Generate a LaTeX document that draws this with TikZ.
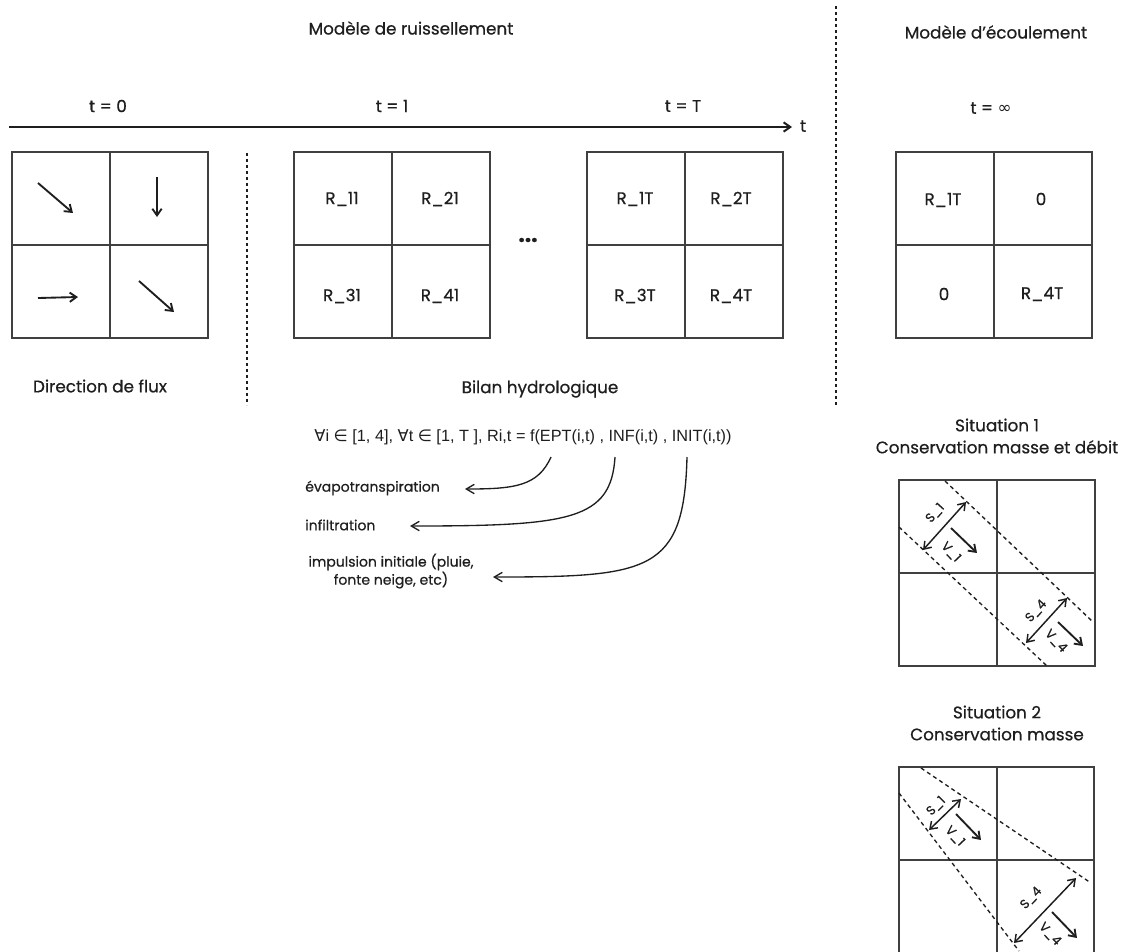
\documentclass[tikz,border=0pt]{standalone}
\usepackage{fontspec}
\setmainfont{Poppins}[FakeBold=0.6]
\newfontfamily\symf{DejaVu Sans}
\newfontfamily\formf{Liberation Sans}
\usetikzlibrary{arrows.meta}
\definecolor{ink}{HTML}{1E1E1E}
\begin{document}
\begin{tikzpicture}[x=0.75pt,y=-0.75pt,
  txt/.style={font=\fontsize{12.6}{16.5}\selectfont, text=ink, inner sep=0pt, align=center},
  small/.style={font=\fontsize{10.5}{11.5}\selectfont, text=ink, inner sep=0pt, align=center},
  tiny/.style={font=\fontsize{9.5}{10}\selectfont, text=ink, inner sep=0pt},
  form/.style={font=\formf\fontsize{12.2}{14}\selectfont, text=ink, inner sep=0pt},
  gridl/.style={draw=ink!85, line width=0.8pt},
  axisl/.style={draw=ink, line width=1.5pt, -{Straight Barb[length=5pt,width=7pt]}},
  sepline/.style={draw=ink, line width=1pt, dash pattern=on 2.5pt off 2pt},
  diag/.style={draw=ink, line width=1pt, dash pattern=on 3pt off 2.5pt},
  flow/.style={draw=ink, line width=1.4pt, -{Straight Barb[length=5pt,width=7pt]}},
  dbl/.style={draw=ink, line width=1.1pt, {Straight Barb[length=5pt,width=7pt]}-{Straight Barb[length=5pt,width=7pt]}},
  callout/.style={draw=ink, line width=1pt, -{Straight Barb[length=6pt,width=7pt]}},
  quad/.pic={\draw[gridl] (0,0) rectangle (196,186);
             \draw[gridl] (98,0) -- (98,186) (0,93) -- (196,93);}
]
\useasboundingbox (0,0) rectangle (1123,951);

% titles
\node[txt] (title1) at (411,28) {Modèle de ruissellement};
\node[txt] (title2) at (996,32) {Modèle d'écoulement};

% time axis
\node[txt] (t0) at (108,106) {t = 0};
\node[txt] (t1) at (392,106) {t = 1};
\node[txt] (tT) at (683,106) {t = T};
\node[txt] (tinf) at (991,108) {t = {\symf ∞}};
\node[txt] (tax) at (803,126) {t};
\coordinate (axs) at (9,127);
\coordinate (axe) at (792,127);
\draw[axisl] (axs) -- (axe);

% separators
\coordinate (sepAa) at (247,153);
\coordinate (sepAb) at (247,405);
\draw[sepline] (sepAa) -- (sepAb);
\coordinate (sepBa) at (836,6);
\coordinate (sepBb) at (836,407);
\draw[sepline] (sepBa) -- (sepBb);

% grid 1 : flow directions
\pic at (12,152) {quad};
\draw[flow] (38,183) -- (73,213);
\draw[flow] (157,177) -- (157,217);
\draw[flow] (38,298) -- (78,297);
\draw[flow] (139,281) -- (174,312);
\node[txt] (dirflux) at (100,386) {Direction de flux};

% grid 2 : t = 1
\pic at (294,152) {quad};
\node[txt] (r11) at (342,199) {R\_11};
\node[txt] (r21) at (440,199) {R\_21};
\node[txt] (r31) at (342,296) {R\_31};
\node[txt] (r41) at (440,296) {R\_41};

\node[txt, font=\fontsize{17}{17}\selectfont\bfseries] (dots) at (528,240) {...};

% grid 3 : t = T
\pic at (587,152) {quad};
\node[txt] (r1T) at (635,199) {R\_1T};
\node[txt] (r2T) at (731,199) {R\_2T};
\node[txt] (r3T) at (635,296) {R\_3T};
\node[txt] (r4T) at (731,296) {R\_4T};

% grid 4 : t = infinity
\pic at (896,152) {quad};
\node[txt] (i1) at (943,200) {R\_1T};
\node[txt] (i2) at (1041,199) {0};
\node[txt] (i3) at (944,294) {0};
\node[txt] (i4) at (1042,294) {R\_4T};

% bilan
\node[txt] (bilan) at (540,389) {Bilan hydrologique};
\node[form] (formula) at (523,437) {{\symf ∀}i {\symf ∈} [1, 4], {\symf ∀}t {\symf ∈} [1, T ], Ri,t = f(EPT(i,t) , INF(i,t) , INIT(i,t))};
\coordinate (eptS) at (551,457);
\coordinate (infS) at (615,457);
\coordinate (iniS) at (687,457);
\node[small, anchor=west] (evap) at (305,488) {évapotranspiration};
\node[small, anchor=west] (infil) at (305,525) {infiltration};
\node[small] (impul) at (391,571) {impulsion initiale (pluie,\\fonte neige, etc)};
\coordinate (evapE) at (465,489);
\coordinate (infE) at (410,526);
\coordinate (iniE) at (493,577);
\draw[callout] (eptS) .. controls (538,486) and (515,489) .. (evapE);
\draw[callout] (infS) .. controls (611,520) and (570,526) .. (infE);
\draw[callout] (iniS) .. controls (684,572) and (650,577) .. (iniE);

% situation 1
\node[txt] (sit1) at (997,436) {Situation 1\\Conservation masse et débit};
\pic at (899,480) {quad};
\draw[diag] (945,481) -- (1093,622);
\draw[diag] (899,527) -- (1047,666);
\draw[dbl] (923,550) -- (966,502);
\draw[flow] (951,528) -- (977,553);
\draw[dbl] (1026,643) -- (1067,598);
\draw[flow] (1058,622) -- (1083,646);
\node[tiny, rotate=48] (s1a) at (935,513) {S\_1};
\node[tiny, rotate=-47] (v1a) at (951,552) {V\_1};
\node[tiny, rotate=48] (s4a) at (1036,611) {S\_4};
\node[tiny, rotate=-47] (v4a) at (1056,641) {V\_4};

% situation 2
\node[txt] (sit2) at (997,723) {Situation 2\\Conservation masse};
\draw[gridl] (899,953) -- (899,767) -- (1094,767) -- (1094,953);
\draw[gridl] (997,767) -- (997,953) (899,860) -- (1094,860);
\draw[diag] (921,768) -- (1091,883);
\draw[diag] (899,793) -- (1019,951);
\draw[dbl] (929,830) -- (961,799);
\draw[flow] (956,814) -- (981,840);
\draw[dbl] (1014,943) -- (1076,878);
\draw[flow] (1052,912) -- (1077,938);
\node[tiny, rotate=45] (s1b) at (936,806) {S\_1};
\node[tiny, rotate=-47] (v1b) at (955,836) {V\_1};
\node[tiny, rotate=47] (s4b) at (1031,898) {S\_4};
\node[tiny, rotate=-47] (v4b) at (1050,934) {V\_4};
\end{tikzpicture}
\end{document}
